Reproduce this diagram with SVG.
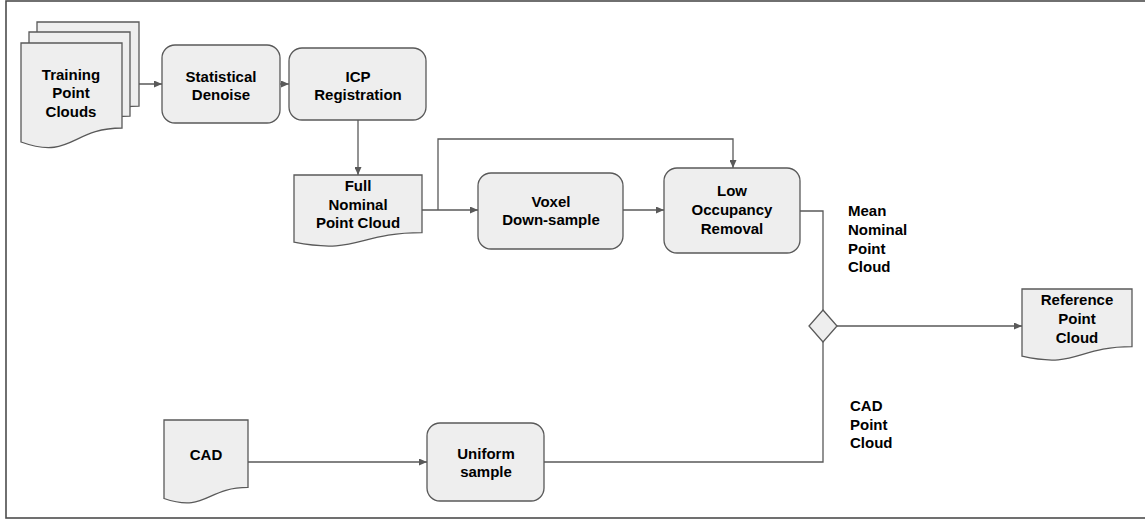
<svg xmlns="http://www.w3.org/2000/svg" width="1145" height="520" viewBox="0 0 1145 520">
  <style>
    .shape { fill: #eeeeee; stroke: #595959; stroke-width: 1.3; }
    .conn { fill: none; stroke: #595959; stroke-width: 1.3; }
    .lbl { font-family: "Liberation Sans", Arial, sans-serif; font-size: 15px; font-weight: bold; fill: #000000; }
    .c { text-anchor: middle; }
  </style>
  <defs>
    <marker id="arr" markerUnits="userSpaceOnUse" markerWidth="8" markerHeight="7" refX="8" refY="3.5" orient="auto">
      <path d="M0,0 L8,3.5 L0,7 Z" fill="#595959"/>
    </marker>
  </defs>
  <rect x="6" y="1" width="1150" height="517" fill="#ffffff" stroke="#4d4d4d" stroke-width="1.6"/>

  <g id="connectors">
    <path class="conn" d="M122,84 H162" marker-end="url(#arr)"/>
    <path class="conn" d="M280,84 H289" marker-end="url(#arr)"/>
    <path class="conn" d="M358,120 V175" marker-end="url(#arr)"/>
    <path class="conn" d="M422,210 H478" marker-end="url(#arr)"/>
    <path class="conn" d="M438,210 V139 H733 V168" marker-end="url(#arr)"/>
    <path class="conn" d="M623,210 H664" marker-end="url(#arr)"/>
    <path class="conn" d="M800,211 H823 V310"/>
    <path class="conn" d="M837,326 H1022" marker-end="url(#arr)"/>
    <path class="conn" d="M248,462 H427" marker-end="url(#arr)"/>
    <path class="conn" d="M544,462 H823 V342"/>
  </g>

  <g id="training">
    <path class="shape" d="M37,22 H139 V106.2 C88,106.2 88,138.2 37,120.1 Z"/>
    <path class="shape" d="M29,32 H130 V116.2 C79.5,116.2 79.5,148.2 29,130.1 Z"/>
    <path class="shape" d="M21,43 H122 V128 C71.5,128 71.5,160.3 21,142 Z"/>
    <text class="lbl c" x="71" y="80">Training</text>
    <text class="lbl c" x="71" y="98">Point</text>
    <text class="lbl c" x="71" y="117">Clouds</text>
  </g>

  <g id="denoise">
    <rect class="shape" x="162" y="45" width="118" height="78" rx="13"/>
    <text class="lbl c" x="221" y="82">Statistical</text>
    <text class="lbl c" x="221" y="100">Denoise</text>
  </g>

  <g id="icp">
    <rect class="shape" x="289" y="48" width="137" height="72" rx="13"/>
    <text class="lbl c" x="358" y="82">ICP</text>
    <text class="lbl c" x="358" y="100">Registration</text>
  </g>

  <g id="full">
    <path class="shape" d="M294,175 H422 V232.7 C358,232.7 358,254.7 294,242.2 Z"/>
    <text class="lbl c" x="358" y="191">Full</text>
    <text class="lbl c" x="358" y="210">Nominal</text>
    <text class="lbl c" x="358" y="228">Point Cloud</text>
  </g>

  <g id="voxel">
    <rect class="shape" x="478" y="173" width="145" height="76" rx="13"/>
    <text class="lbl c" x="551" y="207">Voxel</text>
    <text class="lbl c" x="551" y="225">Down-sample</text>
  </g>

  <g id="lowocc">
    <rect class="shape" x="664" y="168" width="136" height="85" rx="13"/>
    <text class="lbl c" x="732" y="196">Low</text>
    <text class="lbl c" x="732" y="215">Occupancy</text>
    <text class="lbl c" x="732" y="234">Removal</text>
  </g>

  <g id="merge">
    <path class="shape" d="M823,310 L837,326 L823,342 L809,326 Z"/>
  </g>

  <g id="reference">
    <path class="shape" d="M1022,289 H1132 V346.7 C1077,346.7 1077,368.7 1022,356.2 Z"/>
    <text class="lbl c" x="1077" y="305">Reference</text>
    <text class="lbl c" x="1077" y="324">Point</text>
    <text class="lbl c" x="1077" y="343">Cloud</text>
  </g>

  <g id="cad">
    <path class="shape" d="M164,420 H248 V487.4 C206,487.4 206,513 164,498.5 Z"/>
    <text class="lbl c" x="206" y="460">CAD</text>
  </g>

  <g id="uniform">
    <rect class="shape" x="427" y="423" width="117" height="78" rx="13"/>
    <text class="lbl c" x="486" y="459">Uniform</text>
    <text class="lbl c" x="486" y="477">sample</text>
  </g>

  <g id="label-mean">
    <text class="lbl" x="848" y="216">Mean</text>
    <text class="lbl" x="848" y="235">Nominal</text>
    <text class="lbl" x="848" y="254">Point</text>
    <text class="lbl" x="848" y="272">Cloud</text>
  </g>

  <g id="label-cad">
    <text class="lbl" x="850" y="411">CAD</text>
    <text class="lbl" x="850" y="430">Point</text>
    <text class="lbl" x="850" y="448">Cloud</text>
  </g>
</svg>
